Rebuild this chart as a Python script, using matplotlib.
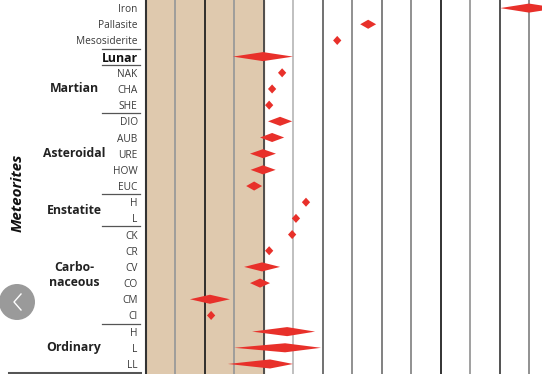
import matplotlib
matplotlib.use("Agg")
import matplotlib.pyplot as plt
from matplotlib.patches import Polygon, Ellipse
from matplotlib.lines import Line2D
import matplotlib.transforms as mtransforms

# ---------------- data ----------------
rotulos = ["Iron", "Pallasite", "Mesosiderite", "Lunar", "NAK", "CHA", "SHE",
           "DIO", "AUB", "URE", "HOW", "EUC", "H", "L", "CK", "CR", "CV",
           "CO", "CM", "CI", "H", "L", "LL"]
centro = [13.0, 7.54, 6.49, 3.97, 4.62, 4.28, 4.18, 4.55, 4.28, 3.97, 3.97,
          3.67, 5.43, 5.09, 4.96, 4.18, 3.94, 3.87, 2.17, 2.21, 4.79, 4.72, 4.21]
minimo = [12.02, 7.27, 6.35, 2.95, 4.48, 4.14, 4.04, 4.14, 3.87, 3.53, 3.55,
          3.40, 5.29, 4.95, 4.82, 4.04, 3.33, 3.53, 1.49, 2.07, 3.60, 2.99, 2.78]
maximo = [14.0, 7.81, 6.63, 4.99, 4.76, 4.42, 4.32, 4.96, 4.69, 4.41, 4.40,
          3.94, 5.57, 5.23, 5.10, 4.32, 4.55, 4.21, 2.85, 2.35, 5.74, 5.94, 4.99]

grupos = ["Martian", "Asteroidal", "Enstatite", "Carbo-\nnaceous", "Ordinary"]
grupos_linha = [5, 9, 12.5, 16.5, 21]
separadores = [2.5, 3.5, 6.5, 11.5, 13.5, 19.5]

faixa_bege = (0, 4)
grade_x = list(range(14))
grade_cor = ["#333333", "#9a9a9a", "#222222", "#9a9a9a", "#444444", "#bbbbbb",
             "#666666", "#888888", "#777777", "#888888", "#222222", "#999999",
             "#444444", "#888888"]

# ---------------- figure ----------------
plt.rcParams["font.family"] = ["Open Sans", "DejaVu Sans"]
fig = plt.figure(figsize=(5.42, 3.74), dpi=100)
ax = fig.add_axes([146 / 542, 0, 1 - 146 / 542, 1])

ax.set_xlim(0, 13.44)
ax.set_ylim(22.62, -0.5)

ax.axvspan(*faixa_bege, color="#dfc9ae", zorder=0)
for gx, c in zip(grade_x, grade_cor):
    ax.axvline(gx, color=c, lw=1.3, zorder=1)

meia_altura = 0.28
for i, (c, lo, hi) in enumerate(zip(centro, minimo, maximo)):
    ax.add_patch(Polygon([(lo, i), (c, i - meia_altura), (hi, i), (c, i + meia_altura)],
                         closed=True, facecolor="#e8302a", edgecolor="none", zorder=3))

ax.set_yticks(range(len(rotulos)))
ax.set_yticklabels(rotulos, fontsize=7.3, color="#3a3a3a")
ax.tick_params(axis="y", length=0, pad=6)
ax.tick_params(axis="x", length=0, labelbottom=False)
lab = ax.get_yticklabels()[3]
lab.set_fontweight("bold")
lab.set_fontsize(8.8)
lab.set_color("#111111")

for s in ["top", "right", "bottom"]:
    ax.spines[s].set_visible(False)
ax.spines["left"].set_color("#333333")
ax.spines["left"].set_linewidth(1.5)

trans = mtransforms.blended_transform_factory(fig.transFigure, ax.transData)
for y in separadores:
    fig.add_artist(Line2D([102 / 542, 140 / 542], [y, y], transform=trans,
                          color="#555555", lw=0.9))
fig.add_artist(Line2D([9 / 542, 140 / 542], [22.56, 22.56], transform=trans,
                      color="#555555", lw=2.2))

for g, y in zip(grupos, grupos_linha):
    fig.text(74 / 542, y, g, transform=trans, ha="center", va="center",
             fontsize=8.8, fontweight="bold", color="#222222", linespacing=1.25)

fig.text(18 / 542, 1 - 193 / 374, "Meteorites", rotation=90, ha="center",
         va="center", fontsize=11, fontweight="bold", fontstyle="italic",
         color="#111111")

# botao cinza da pagina (sobreposicao da imagem original)
fig.add_artist(Ellipse((17 / 542, 1 - 302 / 374), 36 / 542, 36 / 374,
                       transform=fig.transFigure, facecolor="#8f8f8f",
                       edgecolor="none", alpha=0.9))
fig.add_artist(Line2D([21 / 542, 14 / 542, 21 / 542],
                      [1 - 294 / 374, 1 - 302 / 374, 1 - 310 / 374],
                      transform=fig.transFigure, color="white", lw=1.0))

fig.savefig("out.png", dpi=100)
